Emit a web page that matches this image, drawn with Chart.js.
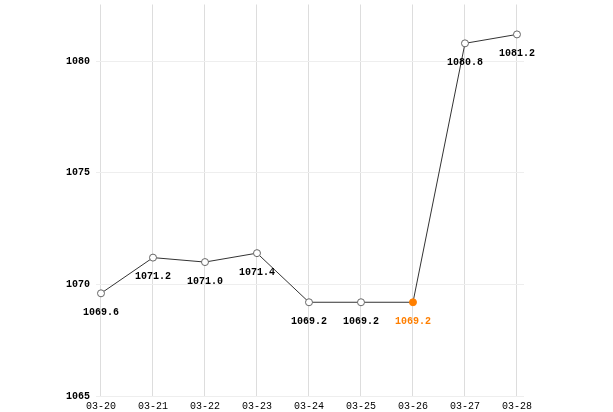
<!DOCTYPE html>
<html>
<head>
<meta charset="utf-8">
<script src="https://cdn.jsdelivr.net/npm/chart.js@4"></script>
<style>
  html, body { margin: 0; padding: 0; background: #ffffff; }
  #wrap { width: 613px; height: 412px; }
</style>
</head>
<body>
<div id="wrap"><canvas id="chart" width="613" height="412"></canvas></div>
<script>
// data
const dates = ['03-20', '03-21', '03-22', '03-23', '03-24', '03-25', '03-26', '03-27', '03-28'];
const prices = [1069.6, 1071.2, 1071.0, 1071.4, 1069.2, 1069.2, 1069.2, 1080.8, 1081.2];
const yTicks = [1065, 1070, 1075, 1080];
const highlightIndex = 6; // orange point

const FONT = '"Liberation Mono", monospace';
const ORANGE = '#ff7f00';

// value labels under each point
const valueLabels = {
    id: 'valueLabels',
    afterDatasetsDraw(chart) {
        const ctx = chart.ctx;
        const meta = chart.getDatasetMeta(0);
        ctx.save();
        ctx.font = 'bold 10px ' + FONT;
        ctx.textAlign = 'center';
        ctx.textBaseline = 'middle';
        meta.data.forEach((pt, i) => {
            ctx.fillStyle = i === highlightIndex ? ORANGE : '#000000';
            ctx.fillText(prices[i].toFixed(1), pt.x, pt.y + 19);
        });
        ctx.restore();
    }
};

new Chart(document.getElementById('chart'), {
    type: 'line',
    data: {
        datasets: [{
            data: prices.map((v, i) => ({ x: i, y: v })),
            borderColor: '#333333',
            borderWidth: 1,
            tension: 0,
            pointRadius: 3.5,
            pointHoverRadius: 3.5,
            pointBorderWidth: 1,
            pointBorderColor: prices.map((v, i) => i === highlightIndex ? ORANGE : '#666666'),
            pointBackgroundColor: prices.map((v, i) => i === highlightIndex ? ORANGE : '#ffffff')
        }]
    },
    options: {
        responsive: false,
        animation: false,
        layout: { padding: { top: 3, right: 89, left: 0, bottom: 0 } },
        plugins: {
            legend: { display: false },
            tooltip: { enabled: false }
        },
        scales: {
            x: {
                type: 'linear',
                min: -0.096,
                max: 8.135,
                afterBuildTicks: axis => { axis.ticks = dates.map((d, i) => ({ value: i })); },
                afterFit: axis => { axis.height = 16; axis.paddingLeft = 0; axis.paddingRight = 0; },
                border: { display: false },
                grid: { color: '#dddddd', drawTicks: false },
                ticks: {
                    padding: 4,
                    maxRotation: 0,
                    autoSkip: false,
                    color: '#000000',
                    font: { family: FONT, size: 10 },
                    callback: v => dates[v]
                }
            },
            y: {
                min: 1065,
                max: 1082.54,
                afterBuildTicks: axis => { axis.ticks = yTicks.map(v => ({ value: v })); },
                afterFit: axis => { axis.width = 96; axis.paddingTop = 0; axis.paddingBottom = 0; },
                border: { display: false },
                grid: { color: '#eeeeee', drawTicks: false },
                ticks: {
                    padding: 6,
                    color: '#000000',
                    font: { family: FONT, size: 10, weight: 'bold' },
                    callback: v => String(v)
                }
            }
        }
    },
    plugins: [valueLabels]
});
</script>
</body>
</html>
